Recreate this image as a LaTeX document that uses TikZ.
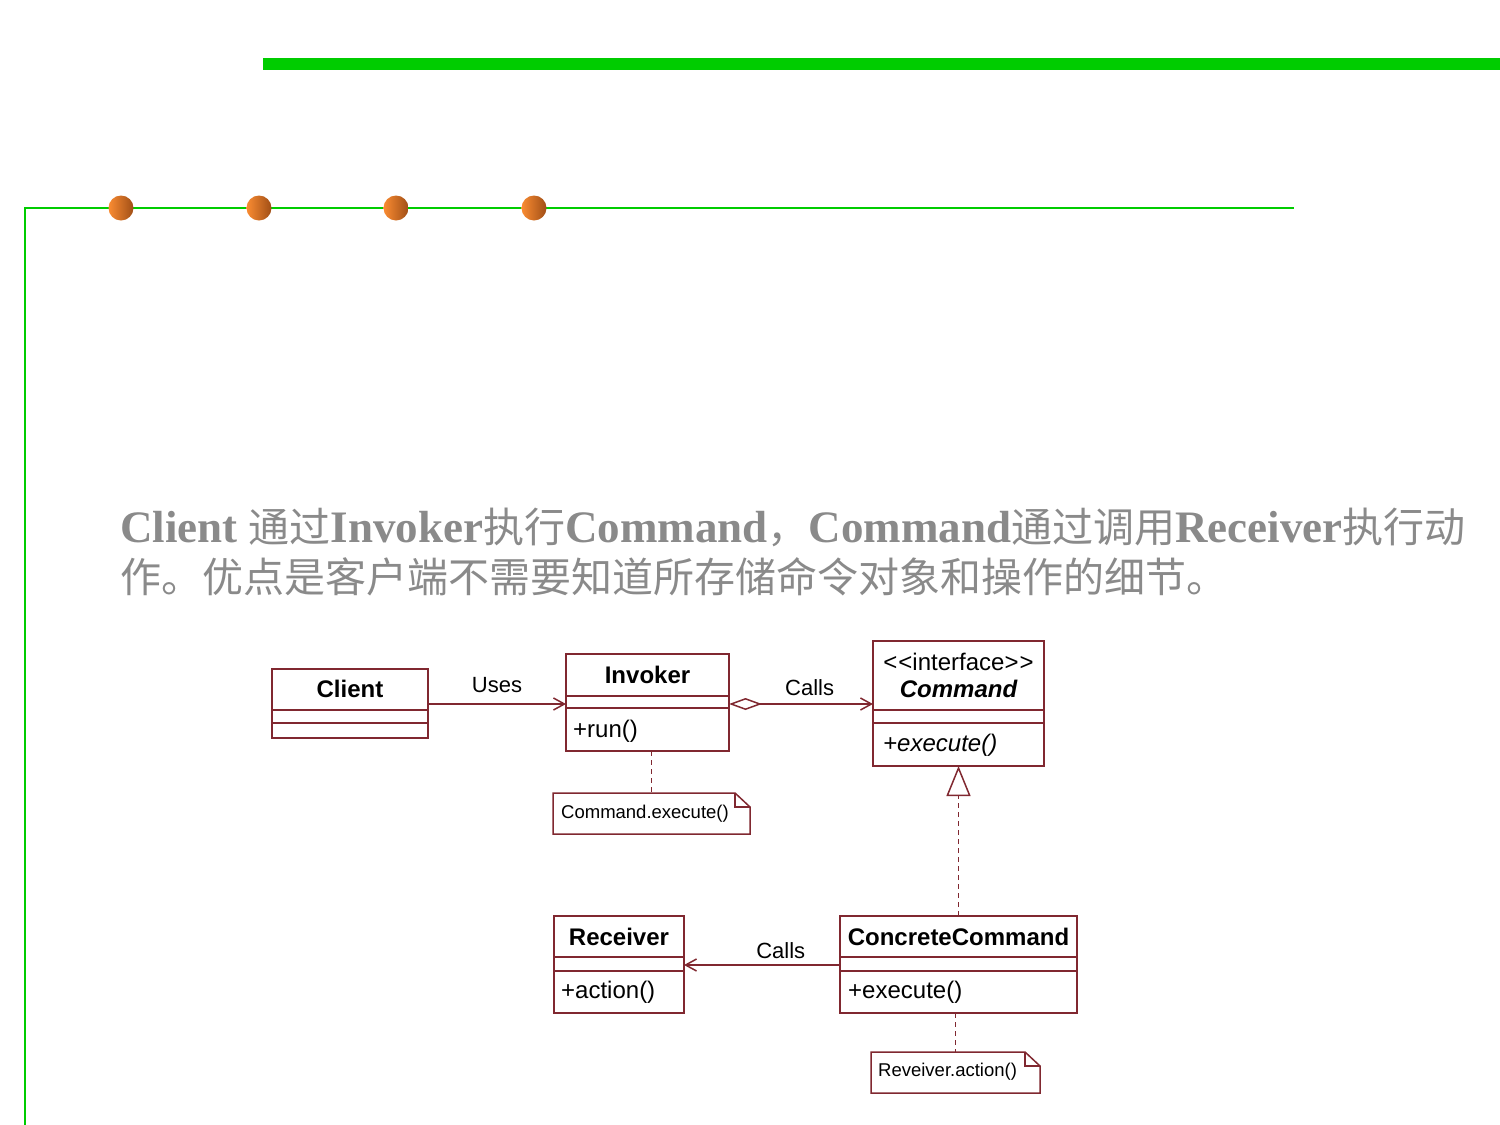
\documentclass[tikz,border=0pt]{standalone}
\usepackage{fontspec}
\setmainfont{Liberation Serif}
\setsansfont{Liberation Sans}
\newfontfamily\zhfont{Noto Sans CJK SC}
\usetikzlibrary{arrows.meta}

\definecolor{framegreen}{RGB}{0,204,0}
\definecolor{umlline}{RGB}{128,40,48}
\definecolor{dotlight}{RGB}{250,140,50}
\definecolor{dotdark}{RGB}{160,78,22}
\definecolor{capgray}{RGB}{138,138,138}

\newcommand\zhtxt[1]{{\zhfont\mdseries\fontsize{41}{50}\selectfont #1}}

\tikzset{
  umlbox/.style={draw=umlline, line width=1.5pt, inner sep=0pt, outer sep=0pt},
  umlpath/.style={draw=umlline, line width=1.5pt},
  notebox/.style={draw=none, inner sep=0pt, outer sep=0pt},
  clsname/.style={font=\sffamily\bfseries\fontsize{24}{28}\selectfont, inner sep=0pt},
  member/.style={font=\sffamily\fontsize{24}{28}\selectfont, anchor=base west, inner sep=0pt},
  lbl/.style={font=\sffamily\fontsize{22}{26}\selectfont, anchor=base, inner sep=0pt},
  notetxt/.style={font=\sffamily\fontsize{18.5}{22}\selectfont, anchor=base west, inner sep=0pt},
  dashline/.style={umlpath, dash pattern=on 5pt off 4pt},
  openhead/.style={-{Straight Barb[length=11pt, width=12pt]}},
}

\begin{document}
\begin{tikzpicture}[x=1pt,y=-1pt]
\useasboundingbox (0,0) rectangle (1500,1125);

% slide frame
\fill[framegreen] (263,58) rectangle (1500,70);
\draw[framegreen, line width=2.2pt] (25,1125) -- (25,208) -- (1294,208);
\foreach \dx in {121,259,396,534}
  \shade[left color=dotlight, right color=dotdark] (\dx,208) circle (12.5);

% caption
\node[anchor=base west, inner sep=0pt, text=capgray] (cap1) at (120,542)
  {\fontsize{45}{50}\selectfont\bfseries Client \zhtxt{通过}Invoker\zhtxt{执行}Command\zhtxt{，}Command\zhtxt{通过调用}Receiver\zhtxt{执行动}};
\node[anchor=base west, inner sep=0pt, text=capgray] (cap2) at (120,592)
  {\zhtxt{作。优点是客户端不需要知道所存储命令对象和操作的细节。}};

% classes
\node[umlbox, minimum width=156pt, minimum height=69pt] (client) at (350,703.5) {};
\node[umlbox, minimum width=163pt, minimum height=97pt] (invoker) at (647.5,702.5) {};
\node[umlbox, minimum width=171pt, minimum height=125pt] (command) at (958.5,703.5) {};
\node[umlbox, minimum width=130pt, minimum height=97pt] (receiver) at (619,964.5) {};
\node[umlbox, minimum width=237pt, minimum height=97pt] (cc) at (958.5,964.5) {};

% compartment separators
\draw[umlpath] (client.west |- 0,710) -- (client.east |- 0,710)
               (client.west |- 0,723) -- (client.east |- 0,723);
\draw[umlpath] (invoker.west |- 0,696) -- (invoker.east |- 0,696)
               (invoker.west |- 0,708) -- (invoker.east |- 0,708);
\draw[umlpath] (command.west |- 0,710) -- (command.east |- 0,710)
               (command.west |- 0,723) -- (command.east |- 0,723);
\draw[umlpath] (receiver.west |- 0,957) -- (receiver.east |- 0,957)
               (receiver.west |- 0,971) -- (receiver.east |- 0,971);
\draw[umlpath] (cc.west |- 0,957) -- (cc.east |- 0,957)
               (cc.west |- 0,971) -- (cc.east |- 0,971);

% class texts
\node[clsname] (client-name) at (350,689) {Client};
\node[clsname] (invoker-name) at (647.5,675) {Invoker};
\node[member] (invoker-op) at (573,737) {+run()};
\node[font=\sffamily\fontsize{24}{28}\selectfont, anchor=base, inner sep=0pt] (command-st) at (958.5,670)
  {\textless\kern1pt\textless interface\textgreater\kern1pt\textgreater};
\node[font=\sffamily\bfseries\itshape\fontsize{24}{28}\selectfont, anchor=base, inner sep=0pt] (command-name) at (958.5,697) {Command};
\node[member, font=\sffamily\itshape\fontsize{24}{28}\selectfont] (command-op) at (883,751) {+execute()};
\node[clsname] (receiver-name) at (619,937) {Receiver};
\node[member] (receiver-op) at (561,998) {+action()};
\node[clsname] (cc-name) at (958.5,937) {ConcreteCommand};
\node[member] (cc-op) at (848,998) {+execute()};

% notes
\node[notebox, minimum width=197pt, minimum height=41pt] (note1) at (651.5,813.5) {};
\node[notetxt] (note1-txt) at (561,818) {Command.execute()};
\node[notebox, minimum width=169pt, minimum height=41pt] (note2) at (955.5,1072.5) {};
\node[notetxt] (note2-txt) at (878,1076) {Reveiver.action()};
\foreach \n in {note1,note2}{
  \draw[umlpath, line join=miter] (\n.north west) -- ([xshift=-15pt]\n.north east)
     -- ([yshift=-14pt]\n.north east) -- (\n.south east) -- (\n.south west) -- cycle;
  \draw[umlpath] ([xshift=-15pt]\n.north east) -- ([xshift=-15pt,yshift=-14pt]\n.north east)
     -- ([yshift=-14pt]\n.north east);
}

% relations
\draw[umlpath, openhead] (client.east |- 0,704) -- node[lbl, midway, yshift=12pt] {Uses} (invoker.west |- 0,704);
\draw[umlpath, {Diamond[open, length=33pt, width=12pt]}-{Straight Barb[length=11pt, width=12pt]}]
  (invoker.east |- 0,704) -- node[lbl, pos=0.56, yshift=9pt] {Calls} (command.west |- 0,704);
\draw[dashline, -{Triangle[open, length=30pt, width=24pt]}] (cc.north) -- (command.south);
\draw[umlpath, openhead] (cc.west |- 0,965) -- node[lbl, pos=0.38, yshift=7pt] {Calls} (receiver.east |- 0,965);
\draw[dashline] (invoker.south -| note1.north) -- (note1.north);
\draw[dashline] (note2.north |- cc.south) -- (note2.north);
\end{tikzpicture}
\end{document}
